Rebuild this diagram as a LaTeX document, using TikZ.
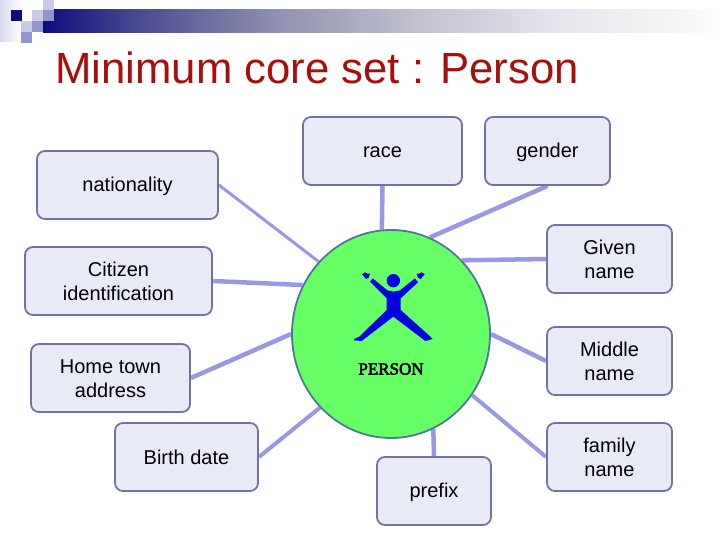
\documentclass[tikz,border=0pt]{standalone}
\usepackage{fontspec}
\setmainfont{Liberation Sans}
\newfontfamily\fancyfont[FakeBold=3]{Liberation Serif}
\usetikzlibrary{shapes.geometric,backgrounds}
\definecolor{boxfill}{HTML}{E8EAF6}
\definecolor{boxline}{HTML}{7272A4}
\definecolor{link}{HTML}{9898E4}
\definecolor{titlered}{HTML}{A80E0E}
\definecolor{navy}{HTML}{0C0C80}
\definecolor{sqa}{HTML}{CACAE6}
\definecolor{sqb}{HTML}{9494CC}
\definecolor{iconblue}{HTML}{0000E0}
\definecolor{barb}{HTML}{4A4A90}
\definecolor{barc}{HTML}{9090B0}
\definecolor{bard}{HTML}{C0C0D0}
\definecolor{bare}{HTML}{E4E4EC}
\definecolor{barf}{HTML}{F8F8F8}
\pgfdeclarehorizontalshading{barfade}{100bp}{color(0bp)=(navy); color(25bp)=(navy); color(32bp)=(barb); color(42.2bp)=(barc); color(52.5bp)=(bard); color(62.7bp)=(bare); color(72.9bp)=(barf); color(75bp)=(white); color(100bp)=(white)}
\newcommand{\firststrut}{\rule{0pt}{18pt}}
\newcommand{\laststrut}{\rule[-4pt]{0pt}{4pt}}
\tikzset{
  topic/.style={draw=boxline,line width=1.8pt,fill=boxfill,rounded corners=8pt,inner sep=0pt,
    align=center,font=\fontsize{20}{24}\selectfont,text=black,minimum height=68pt},
  conn/.style={draw=link,line width=#1},
  conn/.default=4.5pt,
  sq/.style={inner sep=0pt,minimum size=11pt,draw=none,fill=#1},
}
\begin{document}
\begin{tikzpicture}[x=1pt,y=-1pt]
\useasboundingbox (0,0) rectangle (720,540);
% header
\shade[left color=sqa!70,right color=white] (0,0) rectangle (22,42);
\shade[shading=barfade] (43,10) rectangle (720,33);
\fill[white] (22,0) rectangle (43,22);
\node[sq=navy] (s1) at (16,16) {};
\node[sq=sqa] (s2) at (37.5,16) {};
\node[sq=sqa] (s3) at (48.5,5) {};
\node[sq=sqb] (s4) at (48.5,16) {};
\node[sq=sqa] (s5) at (26.5,27) {};
\node[sq=sqb] (s6) at (37.5,27) {};
\node[sq=sqb] (s7) at (26.5,38) {};
\node[anchor=base west,inner sep=0pt,text=titlered,font=\fontsize{43.7}{50}\selectfont] (title) at (55,84) {Minimum core set : Person};
% topics
\node[topic,minimum width=159pt] (race) at (382.5,151) {\firststrut race\laststrut};
\node[topic,minimum width=125pt] (gender) at (547.5,151) {\firststrut gender\laststrut};
\node[topic,minimum width=181pt] (nat) at (127.5,185) {\firststrut nationality\laststrut};
\node[topic,minimum width=187pt] (cit) at (118.5,281) {\firststrut Citizen\\identification\laststrut};
\node[topic,minimum width=159pt] (home) at (110.5,378) {\firststrut Home town\\address\laststrut};
\node[topic,minimum width=143pt] (birth) at (186.5,457) {\firststrut Birth date\laststrut};
\node[topic,minimum width=114pt] (prefix) at (434,491) {\firststrut prefix\laststrut};
\node[topic,minimum width=125pt] (given) at (609.5,259) {\firststrut Given\\name\laststrut};
\node[topic,minimum width=125pt] (middle) at (609.5,361) {\firststrut Middle\\name\laststrut};
\node[topic,minimum width=125pt] (family) at (609.5,457) {\firststrut family\\name\laststrut};
% central ellipse
\node[ellipse,draw=boxline!70!teal,line width=1.8pt,minimum width=198pt,minimum height=208pt,inner sep=0pt,fill={rgb,255:red,102;green,255;blue,102}] (ell) at (391,334) {};
\node[inner sep=0pt,font=\fancyfont\fontsize{17}{17}\selectfont,text=black] (plabel) at (391,369) {PERSON};
% connectors
\begin{scope}[on background layer]
\draw[conn] (race.south) -- (ell.95);
\draw[conn] (gender.south) -- (ell.68);
\draw[conn] (given.west) -- (ell.46);
\draw[conn] (middle.west) -- (ell.0);
\draw[conn=4pt] (family.west) -- (ell.-37);
\draw[conn] (prefix.north) -- (ell.-66);
\draw[conn=4pt] (birth.east) -- (ell.226);
\draw[conn] (home.east) -- (ell.180);
\draw[conn] (cit.east) -- (ell.151);
\draw[conn=3pt] (nat.east) -- (ell.135);
\end{scope}
% icon
\begin{scope}[shift={(350,265)},x=0.3333pt,y=-0.3333pt]
\fill[iconblue] (130,47) circle[radius=20];
\fill[iconblue] (68,40) -- (112,76) -- (130,80) -- (150,76) -- (195,40) -- (204,52) -- (152,100) -- (152,135)
  -- (238,212) -- (248,222) -- (226,228) -- (130,155) -- (35,228) -- (12,226) -- (12,222) -- (28,215) -- (110,135) -- (110,100) -- (60,50) -- cycle;
\fill[iconblue] (36,28) -- (45,22) -- (52,26) -- (60,26) -- (56,38) -- (48,42) -- cycle;
\fill[iconblue] (224,28) -- (215,22) -- (208,26) -- (200,26) -- (204,38) -- (212,42) -- cycle;
\end{scope}
\end{tikzpicture}
\end{document}
